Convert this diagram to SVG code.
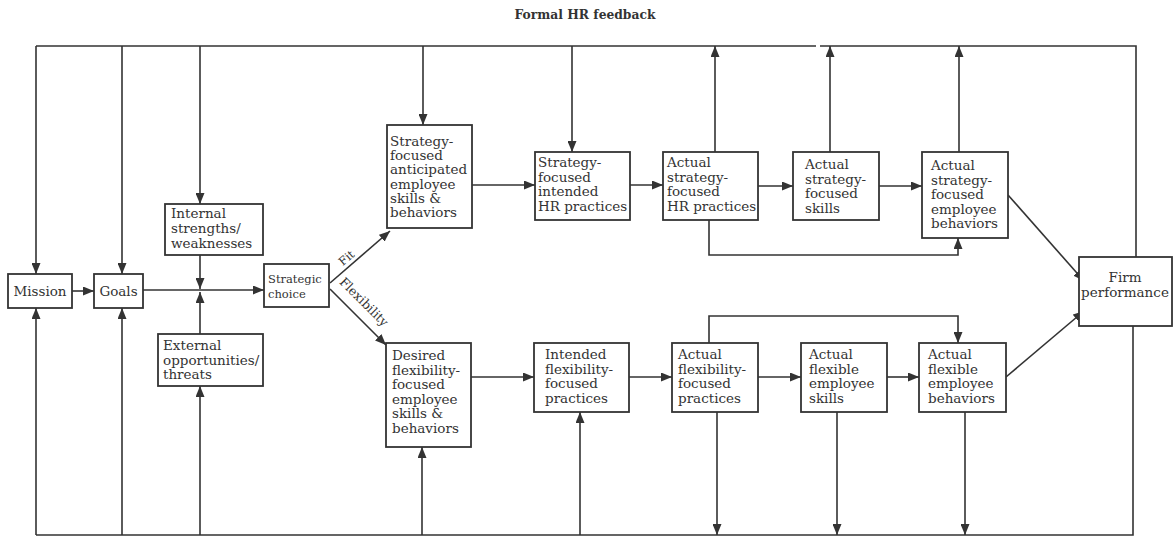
<svg xmlns="http://www.w3.org/2000/svg" width="1173" height="538" viewBox="0 0 1173 538">
<style>
.bx{fill:#fff;stroke:#333;stroke-width:1.8}
.t{font-family:"DejaVu Serif",serif;font-size:13.5px;fill:#333}
.ts{font-family:"DejaVu Serif",serif;font-size:11.5px;fill:#333}
.c{fill:none;stroke:#333;stroke-width:1.6}
.a{marker-end:url(#ah)}
</style>
<defs>
<marker id="ah" markerUnits="userSpaceOnUse" markerWidth="11" markerHeight="9" refX="11" refY="4.5" orient="auto"><path d="M0,0 L11,4.5 L0,9 z" fill="#333"/></marker>
</defs>
<rect width="1173" height="538" fill="#fff"/>
<text x="585" y="19" text-anchor="middle" style="font-family:'DejaVu Serif',serif;font-size:12.3px;font-weight:bold;fill:#333">Formal HR feedback</text>
<g id="connectors">
<path class="c" d="M36,46 H816 M820,46 H1136 V257"/>
<path class="c" d="M36,535 H1133 V326"/>
<path class="c a" d="M36,46 V274"/>
<path class="c a" d="M36,535 V308"/>
<path class="c a" d="M122,46 V274"/>
<path class="c a" d="M122,535 V308"/>
<path class="c a" d="M200,46 V204"/>
<path class="c a" d="M200,255 V289"/>
<path class="c a" d="M200,535 V386"/>
<path class="c a" d="M200,334 V292"/>
<path class="c a" d="M72,291 H94"/>
<path class="c a" d="M143,290 H264"/>
<path class="c a" d="M330,283 L390,231"/>
<path class="c a" d="M330,289 L386,345"/>
<path class="c a" d="M423,46 V125"/>
<path class="c a" d="M472,185 H535"/>
<path class="c a" d="M572,46 V152"/>
<path class="c a" d="M630,185 H663"/>
<path class="c a" d="M715,152 V46"/>
<path class="c a" d="M758,186 H793"/>
<path class="c a" d="M830,152 V46"/>
<path class="c a" d="M879,186 H922"/>
<path class="c a" d="M959,152 V46"/>
<path class="c a" d="M709,220 V255 H958 V238"/>
<path class="c a" d="M1008,195 L1084,281"/>
<path class="c a" d="M422,535 V447"/>
<path class="c a" d="M471,377 H534"/>
<path class="c a" d="M580,535 V412"/>
<path class="c a" d="M629,377 H672"/>
<path class="c a" d="M717,412 V535"/>
<path class="c a" d="M709,343 V316 H958 V343"/>
<path class="c a" d="M758,377 H801"/>
<path class="c a" d="M837,412 V535"/>
<path class="c a" d="M887,377 H919"/>
<path class="c a" d="M965,412 V535"/>
<path class="c a" d="M1006,377 L1084,311"/>
</g>
<text class="ts" transform="translate(349,261) rotate(-40)" text-anchor="middle">Fit</text>
<text class="ts" transform="translate(361,305) rotate(45)" text-anchor="middle" style="font-size:12.5px">Flexibility</text>
<g id="mission"><rect class="bx" x="8" y="274" width="64" height="34"/><text class="t" x="40" y="296" text-anchor="middle">Mission</text></g>
<g id="goals"><rect class="bx" x="94" y="274" width="49" height="34"/><text class="t" x="118.5" y="296" text-anchor="middle">Goals</text></g>
<g id="internal"><rect class="bx" x="165" y="204" width="98" height="51"/><text class="t" x="171" y="218">Internal<tspan x="171" dy="15">strengths/</tspan><tspan x="171" dy="15">weaknesses</tspan></text></g>
<g id="external"><rect class="bx" x="158" y="334" width="105" height="52"/><text class="t" x="163" y="350">External<tspan x="163" dy="15">opportunities/</tspan><tspan x="163" dy="14">threats</tspan></text></g>
<g id="strategic"><rect class="bx" x="264" y="264" width="65" height="43"/><text class="ts" x="268" y="283">Strategic<tspan x="268" dy="15">choice</tspan></text></g>
<g id="anticipated"><rect class="bx" x="387" y="125" width="85" height="103"/><text class="t" x="390" y="146">Strategy-<tspan x="390" dy="14.2">focused</tspan><tspan x="390" dy="14.2">anticipated</tspan><tspan x="390" dy="14.2">employee</tspan><tspan x="390" dy="14.2">skills &amp;</tspan><tspan x="390" dy="14.2">behaviors</tspan></text></g>
<g id="intendedHR"><rect class="bx" x="535" y="152" width="95" height="68"/><text class="t" x="538" y="167">Strategy-<tspan x="538" dy="14.5">focused</tspan><tspan x="538" dy="14.5">intended</tspan><tspan x="538" dy="14.5">HR practices</tspan></text></g>
<g id="actualHR"><rect class="bx" x="663" y="152" width="95" height="68"/><text class="t" x="667" y="167">Actual<tspan x="667" dy="14.5">strategy-</tspan><tspan x="667" dy="14.5">focused</tspan><tspan x="667" dy="14.5">HR practices</tspan></text></g>
<g id="actualSkills"><rect class="bx" x="793" y="152" width="86" height="68"/><text class="t" x="805" y="169">Actual<tspan x="805" dy="14.5">strategy-</tspan><tspan x="805" dy="14.5">focused</tspan><tspan x="805" dy="14.5">skills</tspan></text></g>
<g id="actualBehaviors"><rect class="bx" x="922" y="152" width="86" height="86"/><text class="t" x="931" y="170">Actual<tspan x="931" dy="14.5">strategy-</tspan><tspan x="931" dy="14.5">focused</tspan><tspan x="931" dy="14.5">employee</tspan><tspan x="931" dy="14.5">behaviors</tspan></text></g>
<g id="firm"><rect class="bx" x="1079" y="257" width="93" height="69"/><text class="t" x="1125" y="282" text-anchor="middle">Firm<tspan x="1125" dy="15">performance</tspan></text></g>
<g id="desired"><rect class="bx" x="386" y="343" width="85" height="104"/><text class="t" x="392" y="360">Desired<tspan x="392" dy="14.6">flexibility-</tspan><tspan x="392" dy="14.6">focused</tspan><tspan x="392" dy="14.6">employee</tspan><tspan x="392" dy="14.6">skills &amp;</tspan><tspan x="392" dy="14.6">behaviors</tspan></text></g>
<g id="intendedFlex"><rect class="bx" x="534" y="343" width="95" height="69"/><text class="t" x="545" y="359">Intended<tspan x="545" dy="14.7">flexibility-</tspan><tspan x="545" dy="14.7">focused</tspan><tspan x="545" dy="14.7">practices</tspan></text></g>
<g id="actualFlex"><rect class="bx" x="672" y="343" width="86" height="69"/><text class="t" x="678" y="359">Actual<tspan x="678" dy="14.7">flexibility-</tspan><tspan x="678" dy="14.7">focused</tspan><tspan x="678" dy="14.7">practices</tspan></text></g>
<g id="flexSkills"><rect class="bx" x="801" y="343" width="86" height="69"/><text class="t" x="809" y="359">Actual<tspan x="809" dy="14.7">flexible</tspan><tspan x="809" dy="14.7">employee</tspan><tspan x="809" dy="14.7">skills</tspan></text></g>
<g id="flexBehaviors"><rect class="bx" x="919" y="343" width="87" height="69"/><text class="t" x="928" y="359">Actual<tspan x="928" dy="14.7">flexible</tspan><tspan x="928" dy="14.7">employee</tspan><tspan x="928" dy="14.7">behaviors</tspan></text></g>
</svg>
